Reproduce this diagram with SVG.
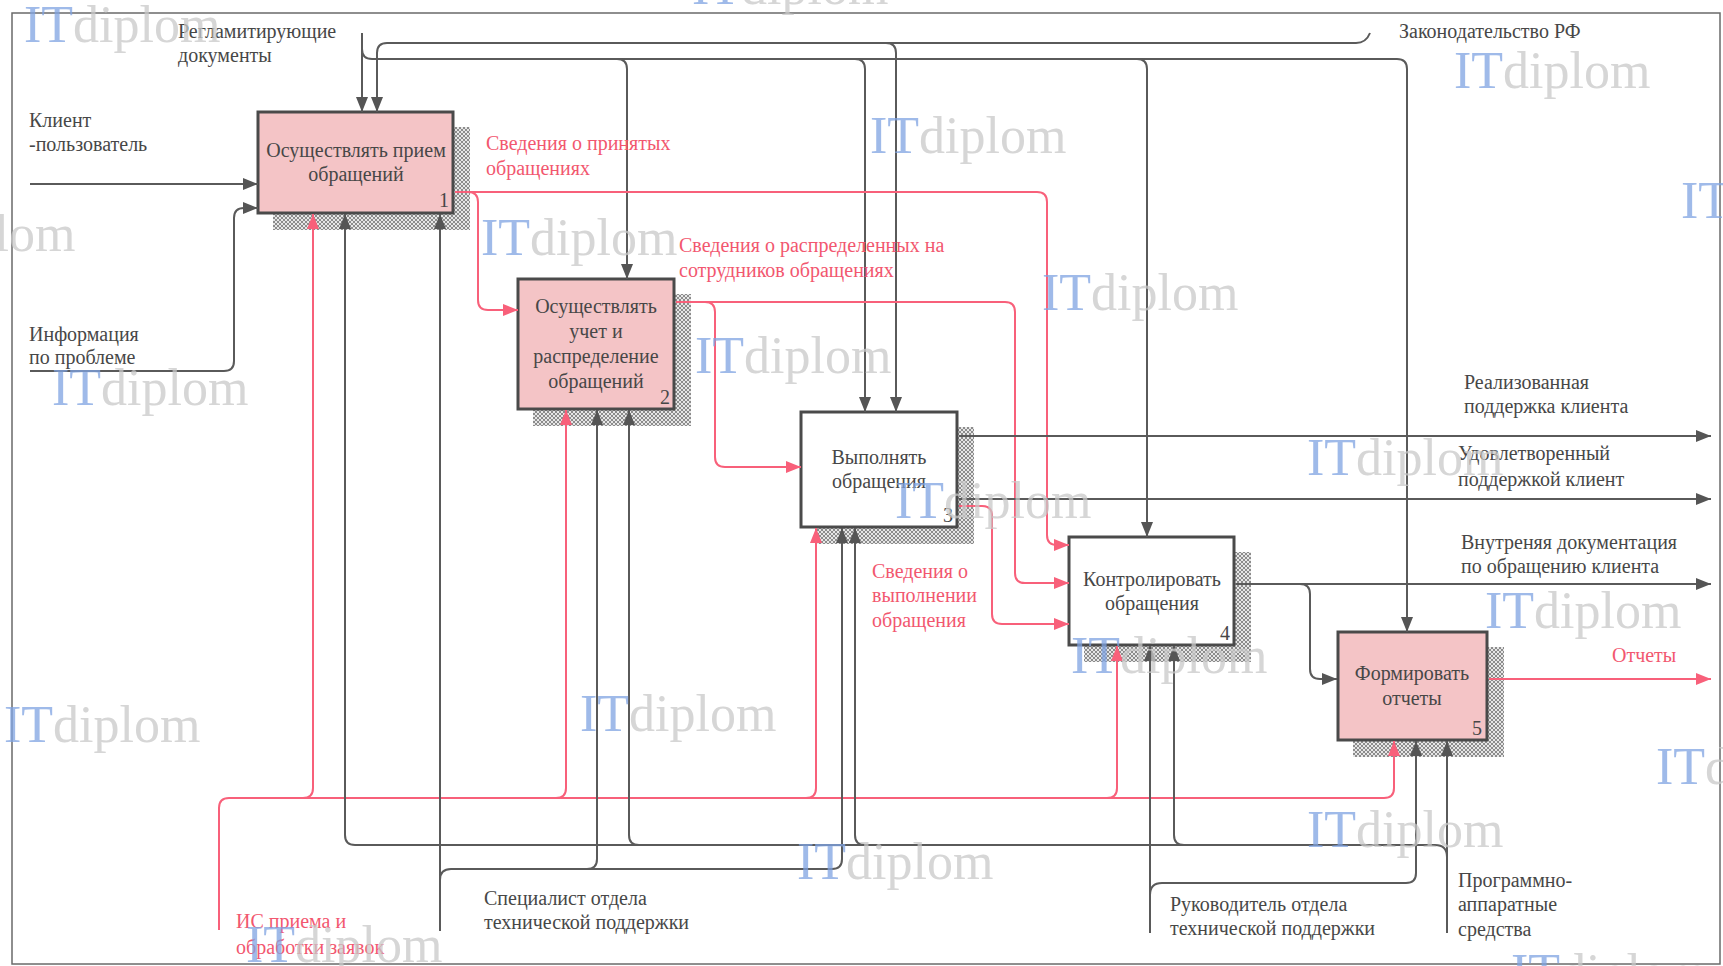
<svg xmlns="http://www.w3.org/2000/svg" width="1723" height="966" viewBox="0 0 1723 966">
<style>
.ln{fill:none;stroke:#5a5a5a;stroke-width:2}
.rl{fill:none;stroke:#f8607a;stroke-width:2}
.box{stroke:#4a4a4a;stroke-width:3}
.pk{fill:#f4c4c6}
.wh{fill:#ffffff}
.sh{fill:url(#hatch)}
.t{font-family:"Liberation Serif","Times New Roman",serif;font-size:20px;fill:#474747}
.r{font-family:"Liberation Serif","Times New Roman",serif;font-size:20px;fill:#f2576f}
.c{text-anchor:middle}
.n{text-anchor:end}
.wm{font-family:"Liberation Serif","Times New Roman",serif;font-size:52px}
.wb{fill:#7fa3e2;fill-opacity:0.75}
.wg{fill:#c8c8c8;fill-opacity:0.75}
</style>
<defs>
<pattern id="hatch" width="4" height="4" patternUnits="userSpaceOnUse">
<rect width="4" height="4" fill="#e6e6e6"/>
<path d="M0,0 L4,4 M4,0 L0,4" stroke="#8c8c8c" stroke-width="1"/>
</pattern>
<marker id="ag" markerWidth="16" markerHeight="12" refX="15" refY="6" orient="auto" markerUnits="userSpaceOnUse">
<path d="M0,0 L15,6 L0,12 z" fill="#555555"/>
</marker>
<marker id="ar" markerWidth="16" markerHeight="12" refX="15" refY="6" orient="auto" markerUnits="userSpaceOnUse">
<path d="M0,0 L15,6 L0,12 z" fill="#f8607a"/>
</marker>
</defs>
<rect x="0" y="0" width="1723" height="966" fill="#ffffff"/>
<rect x="12" y="13" width="1708" height="951" fill="none" stroke="#6a6a6a" stroke-width="1.5"/>

<g id="node1">
<path class="sh" d="M453,127 H470 V230 H273 V213 H453 Z"/>
<rect class="box pk" x="258" y="112" width="195" height="101"/>
<text class="t c" x="356" y="157">Осуществлять прием</text>
<text class="t c" x="356" y="181">обращений</text>
<text class="t n" x="449" y="207">1</text>
</g>
<g id="node2">
<path class="sh" d="M674,294 H691 V426 H533 V409 H674 Z"/>
<rect class="box pk" x="518" y="279" width="156" height="130"/>
<text class="t c" x="596" y="313">Осуществлять</text>
<text class="t c" x="596" y="338">учет и</text>
<text class="t c" x="596" y="363">распределение</text>
<text class="t c" x="596" y="388">обращений</text>
<text class="t n" x="670" y="404">2</text>
</g>
<g id="node3">
<path class="sh" d="M957,427 H974 V544 H816 V527 H957 Z"/>
<rect class="box wh" x="801" y="412" width="156" height="115"/>
<text class="t c" x="879" y="464">Выполнять</text>
<text class="t c" x="879" y="488">обращения</text>
<text class="t n" x="953" y="522">3</text>
</g>
<g id="node4">
<path class="sh" d="M1234,552 H1251 V662 H1084 V645 H1234 Z"/>
<rect class="box wh" x="1069" y="537" width="165" height="108"/>
<text class="t c" x="1152" y="586">Контролировать</text>
<text class="t c" x="1152" y="610">обращения</text>
<text class="t n" x="1230" y="640">4</text>
</g>
<g id="node5">
<path class="sh" d="M1487,647 H1504 V757 H1353 V740 H1487 Z"/>
<rect class="box pk" x="1338" y="632" width="149" height="108"/>
<text class="t c" x="1412" y="680">Формировать</text>
<text class="t c" x="1412" y="705">отчеты</text>
<text class="t n" x="1482" y="735">5</text>
</g>

<g id="connectors">
<path class="ln" d="M1370,33 Q1366,43 1356,43 L387,43 Q377,43 377,53 L377,112" marker-end="url(#ag)"/>
<path class="ln" d="M886,43 Q896,43 896,53 L896,412" marker-end="url(#ag)"/>
<path class="ln" d="M362,33 L362,112" marker-end="url(#ag)"/>
<path class="ln" d="M362,49 Q362,59 372,59 L1397,59 Q1407,59 1407,69 L1407,632" marker-end="url(#ag)"/>
<path class="ln" d="M617,59 Q627,59 627,69 L627,279" marker-end="url(#ag)"/>
<path class="ln" d="M855,59 Q865,59 865,69 L865,412" marker-end="url(#ag)"/>
<path class="ln" d="M1137,59 Q1147,59 1147,69 L1147,537" marker-end="url(#ag)"/>
<path class="ln" d="M30,184 L258,184" marker-end="url(#ag)"/>
<path class="ln" d="M30,371 L224,371 Q234,371 234,361 L234,218 Q234,208 244,208 L258,208" marker-end="url(#ag)"/>
<path class="rl" d="M455,192 L1037,192 Q1047,192 1047,202 L1047,535 Q1047,545 1057,545 L1069,545" marker-end="url(#ar)"/>
<path class="rl" d="M468,192 Q478,192 478,202 L478,300 Q478,310 488,310 L518,310" marker-end="url(#ar)"/>
<path class="rl" d="M676,302 L1005,302 Q1015,302 1015,312 L1015,573 Q1015,583 1025,583 L1069,583" marker-end="url(#ar)"/>
<path class="rl" d="M705,302 Q715,302 715,312 L715,457 Q715,467 725,467 L801,467" marker-end="url(#ar)"/>
<path class="rl" d="M959,506 L982,506 Q992,506 992,516 L992,614 Q992,624 1002,624 L1069,624" marker-end="url(#ar)"/>
<path class="ln" d="M959,436 L1711,436" marker-end="url(#ag)"/>
<path class="ln" d="M959,499 L1711,499" marker-end="url(#ag)"/>
<path class="ln" d="M1236,584 L1711,584" marker-end="url(#ag)"/>
<path class="ln" d="M1300,584 Q1310,584 1310,594 L1310,669 Q1310,679 1320,679 L1337,679" marker-end="url(#ag)"/>
<path class="rl" d="M1489,679 L1711,679" marker-end="url(#ar)"/>
<path class="rl" d="M219,930 L219,808 Q219,798 229,798 L1384,798 Q1394,798 1394,788 L1394,741" marker-end="url(#ar)"/>
<path class="rl" d="M303,798 Q313,798 313,788 L313,214" marker-end="url(#ar)"/>
<path class="rl" d="M556,798 Q566,798 566,788 L566,410" marker-end="url(#ar)"/>
<path class="rl" d="M806,798 Q816,798 816,788 L816,528" marker-end="url(#ar)"/>
<path class="rl" d="M1107,798 Q1117,798 1117,788 L1117,646" marker-end="url(#ar)"/>
<path class="ln" d="M440,931 L440,214" marker-end="url(#ag)"/>
<path class="ln" d="M440,880 Q440,869 451,869 L832,869 Q842,869 842,859 L842,528" marker-end="url(#ag)"/>
<path class="ln" d="M587,869 Q597,869 597,859 L597,410" marker-end="url(#ag)"/>
<path class="ln" d="M1447,933 L1447,741" marker-end="url(#ag)"/>
<path class="ln" d="M1447,857 Q1447,845 1435,845 L355,845 Q345,845 345,835 L345,214" marker-end="url(#ag)"/>
<path class="ln" d="M639,845 Q629,845 629,835 L629,410" marker-end="url(#ag)"/>
<path class="ln" d="M865,845 Q855,845 855,835 L855,528" marker-end="url(#ag)"/>
<path class="ln" d="M1184,845 Q1174,845 1174,835 L1174,646" marker-end="url(#ag)"/>
<path class="ln" d="M1150,933 L1150,646" marker-end="url(#ag)"/>
<path class="ln" d="M1150,895 Q1150,883 1162,883 L1406,883 Q1416,883 1416,873 L1416,741" marker-end="url(#ag)"/>
</g>

<g id="labels">
<text class="t" x="178" y="38">Регламитирующие</text>
<text class="t" x="178" y="62">документы</text>
<text class="t" x="1399" y="38">Законодательство РФ</text>
<text class="t" x="29" y="127">Клиент</text>
<text class="t" x="29" y="151">-пользователь</text>
<text class="t" x="29" y="341">Информация</text>
<text class="t" x="29" y="364">по проблеме</text>
<text class="r" x="486" y="150">Сведения о принятых</text>
<text class="r" x="486" y="175">обращениях</text>
<text class="r" x="679" y="252">Сведения о распределенных на</text>
<text class="r" x="679" y="277">сотрудников обращениях</text>
<text class="t" x="1464" y="389">Реализованная</text>
<text class="t" x="1464" y="413">поддержка клиента</text>
<text class="t" x="1458" y="460">Удовлетворенный</text>
<text class="t" x="1458" y="486">поддержкой клиент</text>
<text class="r" x="872" y="578">Сведения о</text>
<text class="r" x="872" y="602">выполнении</text>
<text class="r" x="872" y="627">обращения</text>
<text class="t" x="1461" y="549">Внутреняя документация</text>
<text class="t" x="1461" y="573">по обращению клиента</text>
<text class="r" x="1612" y="662">Отчеты</text>
<text class="r" x="236" y="928">ИС приема и</text>
<text class="r" x="236" y="954">обработки заявок</text>
<text class="t" x="484" y="905">Специалист отдела</text>
<text class="t" x="484" y="929">технической поддержки</text>
<text class="t" x="1170" y="911">Руководитель отдела</text>
<text class="t" x="1170" y="935">технической поддержки</text>
<text class="t" x="1458" y="887">Программно-</text>
<text class="t" x="1458" y="911">аппаратные</text>
<text class="t" x="1458" y="936">средства</text>
</g>

<g id="watermarks" class="wm">
<text x="24" y="42"><tspan class="wb">IT</tspan><tspan class="wg">diplom</tspan></text>
<text x="692" y="4"><tspan class="wb">IT</tspan><tspan class="wg">diplom</tspan></text>
<text x="1454" y="88"><tspan class="wb">IT</tspan><tspan class="wg">diplom</tspan></text>
<text x="870" y="153"><tspan class="wb">IT</tspan><tspan class="wg">diplom</tspan></text>
<text x="1681" y="218"><tspan class="wb">IT</tspan><tspan class="wg">diplom</tspan></text>
<text x="-121" y="251"><tspan class="wb">IT</tspan><tspan class="wg">diplom</tspan></text>
<text x="481" y="255"><tspan class="wb">IT</tspan><tspan class="wg">diplom</tspan></text>
<text x="1042" y="310"><tspan class="wb">IT</tspan><tspan class="wg">diplom</tspan></text>
<text x="695" y="373"><tspan class="wb">IT</tspan><tspan class="wg">diplom</tspan></text>
<text x="52" y="405"><tspan class="wb">IT</tspan><tspan class="wg">diplom</tspan></text>
<text x="1307" y="475"><tspan class="wb">IT</tspan><tspan class="wg">diplom</tspan></text>
<text x="895" y="518"><tspan class="wb">IT</tspan><tspan class="wg">diplom</tspan></text>
<text x="1485" y="628"><tspan class="wb">IT</tspan><tspan class="wg">diplom</tspan></text>
<text x="1071" y="673"><tspan class="wb">IT</tspan><tspan class="wg">diplom</tspan></text>
<text x="4" y="742"><tspan class="wb">IT</tspan><tspan class="wg">diplom</tspan></text>
<text x="580" y="731"><tspan class="wb">IT</tspan><tspan class="wg">diplom</tspan></text>
<text x="1656" y="784"><tspan class="wb">IT</tspan><tspan class="wg">diplom</tspan></text>
<text x="1307" y="847"><tspan class="wb">IT</tspan><tspan class="wg">diplom</tspan></text>
<text x="797" y="879"><tspan class="wb">IT</tspan><tspan class="wg">diplom</tspan></text>
<text x="246" y="962"><tspan class="wb">IT</tspan><tspan class="wg">diplom</tspan></text>
<text x="1511" y="990"><tspan class="wb">IT</tspan><tspan class="wg">diplom</tspan></text>
</g>
</svg>
